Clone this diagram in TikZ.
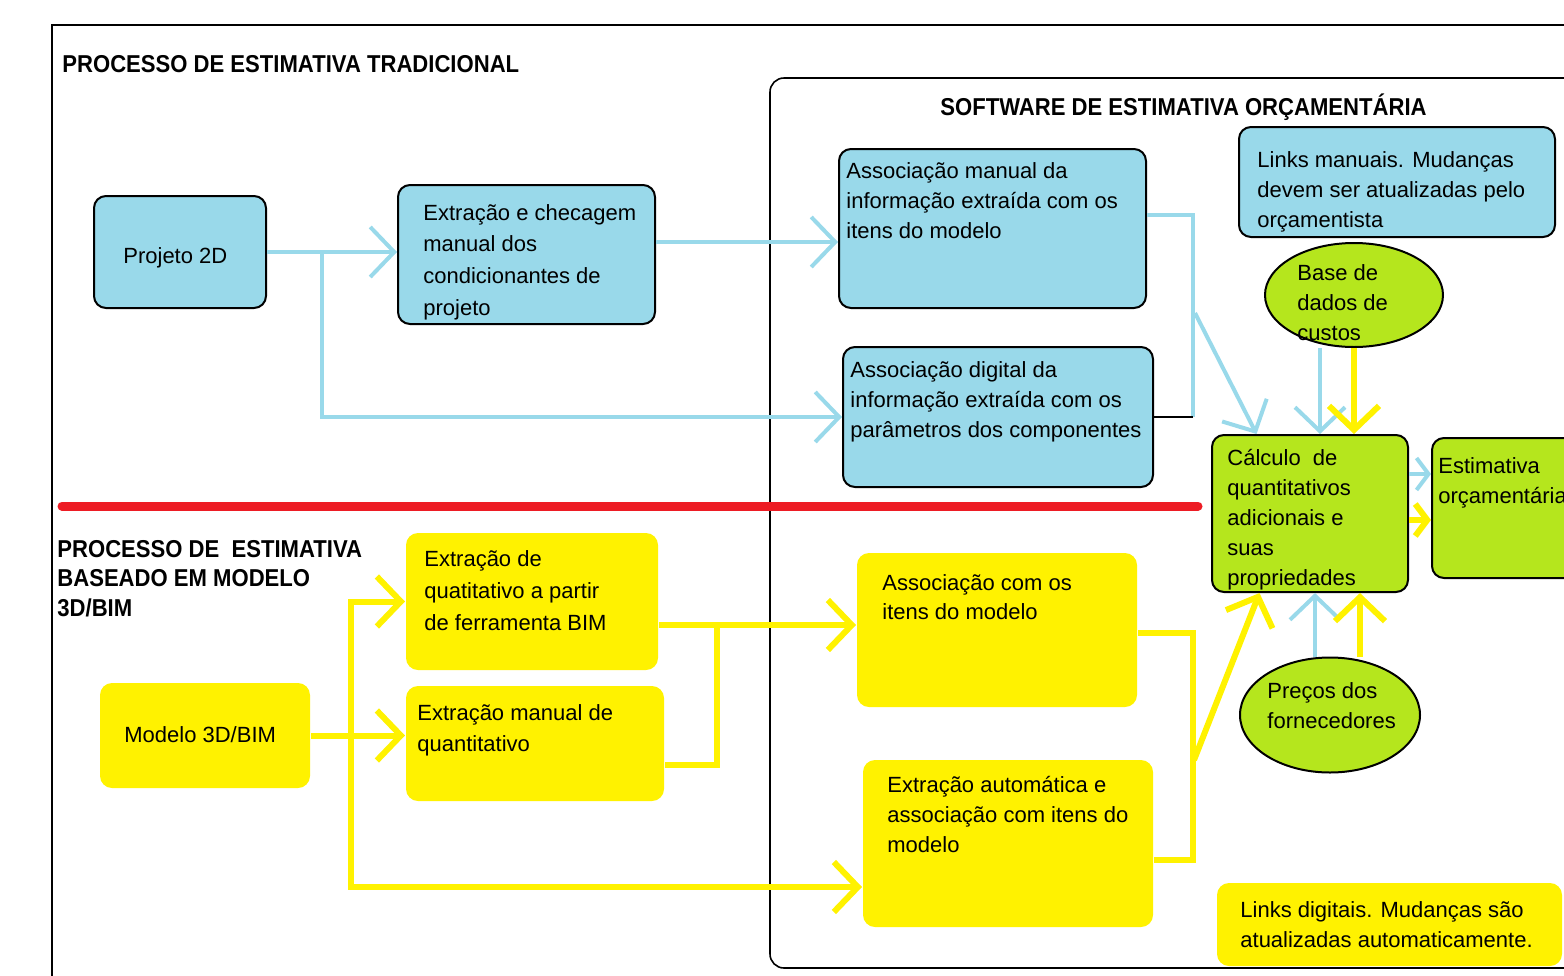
\documentclass[tikz,border=0pt]{standalone}
\usepackage{fontspec}
\setmainfont{Liberation Sans}
\newfontfamily\headfont[FakeStretch=0.905]{Liberation Sans}
\usetikzlibrary{arrows.meta,shapes.geometric,fit,calc}
\definecolor{lblue}{RGB}{153,217,234}
\definecolor{yel}{RGB}{255,242,0}
\definecolor{lgreen}{RGB}{181,230,29}
\definecolor{redl}{RGB}{237,28,36}
\tikzset{
  box/.style={rounded corners=6pt, inner sep=0pt, line width=1pt},
  bluebox/.style={box, draw=black, fill=lblue},
  yelbox/.style={box, fill=yel},
  grnbox/.style={box, draw=black, fill=lgreen},
  oval/.style={ellipse, draw=black, line width=1pt, fill=lgreen, inner sep=0pt},
  txt/.style={anchor=base west, inner sep=0pt, align=left, font=\fontsize{11}{15}\selectfont},
  head/.style={anchor=base west, inner sep=0pt, align=left, font=\headfont\bfseries\fontsize{12.2}{14.75}\selectfont},
  bl/.style={draw=lblue, line width=2pt},
  yl/.style={draw=yel, line width=3pt},
  arr/.style={-{Straight Barb[length=12pt,width=25pt]}},
  arrs/.style={-{Straight Barb[length=6pt,width=16pt]}},
}
\begin{document}
\begin{tikzpicture}[x=0.5pt,y=-0.5pt]
\useasboundingbox (0,0) rectangle (1564,975);
% frames
\draw[line width=0.8pt] (1580,25) -- (52,25) -- (52,990);
\draw[line width=0.8pt, rounded corners=7pt] (1580,78) -- (770,78) -- (770,968) -- (1580,968);
% red separator
\draw[redl, line width=4.5pt, line cap=round] (62,506) -- (1198,506);
% headings (anchor at baseline of last line)
\node[head] (h1) at (62,72) {PROCESSO DE ESTIMATIVA TRADICIONAL};
\node[head] (h2) at (940,115) {SOFTWARE DE ESTIMATIVA ORÇAMENTÁRIA};
\node[head] (h3) at (57,616) {PROCESSO DE \ ESTIMATIVA\\BASEADO EM MODELO\\3D/BIM};
% blue boxes
\node[bluebox, fit={(94,196) (266,308)}] (pj) {};
\node[bluebox, fit={(398,185) (655,324)}] (ext) {};
\node[bluebox, fit={(839,149) (1146,308)}] (man) {};
\node[bluebox, fit={(843,347) (1153,487)}] (dig) {};
\node[bluebox, fit={(1239,127) (1555,237)}] (lman) {};
% green
\node[oval, minimum width=89pt, minimum height=52pt] (base) at (1354,295) {};
\node[grnbox, fit={(1212,435) (1408,592)}] (calc) {};
\node[grnbox, fit={(1432,438) (1600,578)}] (est) {};
\node[oval, minimum width=90pt, minimum height=57.5pt] (pre) at (1330,715) {};
% yellow boxes
\node[yelbox, fit={(406,533) (658,670)}] (exq) {};
\node[yelbox, fit={(406,686) (664,801)}] (exm) {};
\node[yelbox, fit={(100,683) (310,788)}] (mod) {};
\node[yelbox, fit={(857,553) (1137,707)}] (asc) {};
\node[yelbox, fit={(863,760) (1153,927)}] (aut) {};
\node[yelbox, fit={(1217,883) (1562,966)}] (ldig) {};
% texts (anchor at baseline of last line)
\node[txt] (tpj) at (123,263) {Projeto 2D};
\node[txt, font=\fontsize{11}{15.8}\selectfont] (text) at (423,315) {Extração e checagem\\manual dos\\condicionantes de\\projeto};
\node[txt] (tman) at (846,238) {Associação manual da\\informação extraída com os\\itens do modelo};
\node[txt] (tdig) at (850,437) {Associação digital da\\informação extraída com os\\parâmetros dos componentes};
\node[txt] (tlman) at (1257,227) {Links manuais. Mudanças\\devem ser atualizadas pelo\\orçamentista};
\node[txt] (tbase) at (1297,340) {Base de\\dados de\\custos};
\node[txt] (tcalc) at (1227,585) {Cálculo\ \ de\\quantitativos\\adicionais e\\suas\\propriedades};
\node[txt] (test) at (1438,503) {Estimativa\\orçamentária};
\node[txt, font=\fontsize{11}{16}\selectfont] (texq) at (424,630) {Extração de\\quatitativo a partir\\de ferramenta BIM};
\node[txt, font=\fontsize{11}{15.5}\selectfont] (texm) at (417,751) {Extração manual de\\quantitativo};
\node[txt] (tmod) at (124,742) {Modelo 3D/BIM};
\node[txt, font=\fontsize{11}{14.5}\selectfont] (tasc) at (882,619) {Associação com os\\itens do modelo};
\node[txt] (taut) at (887,852) {Extração automática e\\associação com itens do\\modelo};
\node[txt] (tpre) at (1267,728) {Preços dos\\fornecedores};
\node[txt] (tldig) at (1240,947) {Links digitais. Mudanças são\\atualizadas automaticamente.};
% helper coordinates
\coordinate (b1) at (322,252);
\coordinate (r242) at (0,242);
\coordinate (r215) at (0,215);
\coordinate (v1193) at (1193,0);
\coordinate (d1) at (1195,313);
\coordinate (x1320) at (1320,0);
\coordinate (x1354) at (1354,0);
\coordinate (r474) at (0,474);
\coordinate (r520) at (0,520);
\coordinate (x1315) at (1315,0);
\coordinate (x1360) at (1360,0);
\coordinate (b2) at (351,736);
\coordinate (r887) at (0,887);
\coordinate (r625) at (0,625);
\coordinate (r765) at (0,765);
\coordinate (x717) at (717,0);
\coordinate (r633) at (0,633);
\coordinate (r860) at (0,860);
\coordinate (d2) at (1194,760);
% blue connectors
\draw[bl,arr] (pj.east) -- (pj.east -| ext.west);
\draw[bl,arr] (b1) |- (dig.west);
\draw[bl,arr] (ext.east |- r242) -- (man.west |- r242);
\draw[bl] (man.east |- r215) -- (v1193 |- r215) -- (v1193 |- dig.east);
\draw[black, line width=1pt] (v1193 |- dig.east) -- (dig.east);
\draw[bl,arr] (d1) -- ($(calc.north west)!0.23!(calc.north east)$);
\draw[bl,arr] (base.south -| x1320) -- (calc.north -| x1320);
\draw[yl,arr] (base.south -| x1354) -- (calc.north -| x1354);
\draw[bl,arrs] (calc.east |- r474) -- (est.west |- r474);
\draw[yl,arrs] (calc.east |- r520) -- (est.west |- r520);
\draw[bl,arr] (pre.north -| x1315) -- (calc.south -| x1315);
\draw[yl,arr] (pre.north -| x1360) -- (calc.south -| x1360);
% yellow connectors
\draw[yl,arr] (mod.east) -- (mod.east -| exm.west);
\draw[yl,arr] (b2) |- (exq.west);
\draw[yl,arr] (b2) |- (aut.west |- r887);
\draw[yl,arr] (exq.east |- r625) -- (asc.west |- r625);
\draw[yl] (exm.east |- r765) -| (x717 |- r625);
\draw[yl] (asc.east |- r633) -| (v1193 |- r860) -- (aut.east |- r860);
\draw[yl,arr] (d2) -- ($(calc.south west)!0.245!(calc.south east)$);
\end{tikzpicture}
\end{document}
